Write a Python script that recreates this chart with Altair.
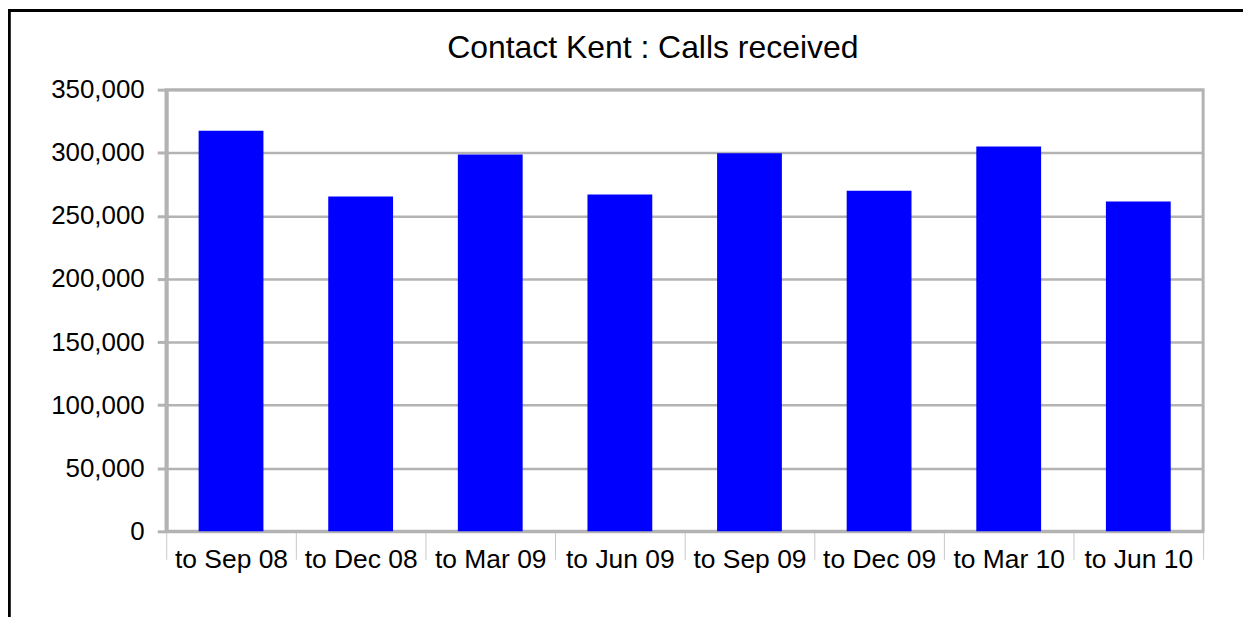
import altair as alt
import pandas as pd

categories = ["to Sep 08", "to Dec 08", "to Mar 09", "to Jun 09",
              "to Sep 09", "to Dec 09", "to Mar 10", "to Jun 10"]
calls = [317350, 265400, 298600, 267000, 299600, 269900, 304900, 261400]
y_ticks = [0, 50000, 100000, 150000, 200000, 250000, 300000, 350000]

df = pd.DataFrame({"period": categories, "calls": calls})

FONT = "Liberation Sans"
GRID = "#b3b3b3"

bars = alt.Chart(df).mark_bar(
    color="#0000ff", width=alt.RelativeBandSize(0.5)
).encode(
    x=alt.X("period:N", sort=categories,
            scale=alt.Scale(paddingInner=0, paddingOuter=0),
            axis=alt.Axis(title=None, labelAngle=0, tickBand="extent",
                          tickColor="#c8c8c8", tickWidth=1, tickSize=28,
                          labelPadding=-13, labelFont=FONT, labelFontSize=26.5,
                          labelColor="black", domainColor=GRID, domainWidth=3,
                          grid=False)),
    y=alt.Y("calls:Q",
            scale=alt.Scale(domain=[0, 350000], nice=False),
            axis=alt.Axis(title=None, values=y_ticks, format=",d",
                          grid=True, gridColor=GRID, gridWidth=2.5,
                          tickColor=GRID, tickWidth=3, tickSize=9,
                          labelPadding=13, labelFont=FONT, labelFontSize=26,
                          labelColor="black", domainColor=GRID, domainWidth=4)),
)

frame = alt.Chart(pd.DataFrame({"a": [0]})).mark_rect(
    fill=None, stroke="black", strokeWidth=3, clip=False
).encode(
    x=alt.value(-157.4), x2=alt.value(1300),
    y=alt.value(-79.3), y2=alt.value(800),
)

chart = alt.layer(bars, frame).properties(
    width=1040,
    height=443,
    title=alt.TitleParams("Contact Kent : Calls received", font=FONT,
                          fontSize=32, fontWeight="normal", color="black",
                          anchor="middle", dx=-32, baseline="alphabetic",
                          offset=0, dy=81.2),
    autosize=alt.AutoSizeParams(type="none"),
    padding={"left": 158.7, "top": 81, "right": 40, "bottom": 85},
).configure_view(stroke=GRID, strokeWidth=3)

chart.save("out.html", embed_options={"renderer": "svg", "actions": False})
